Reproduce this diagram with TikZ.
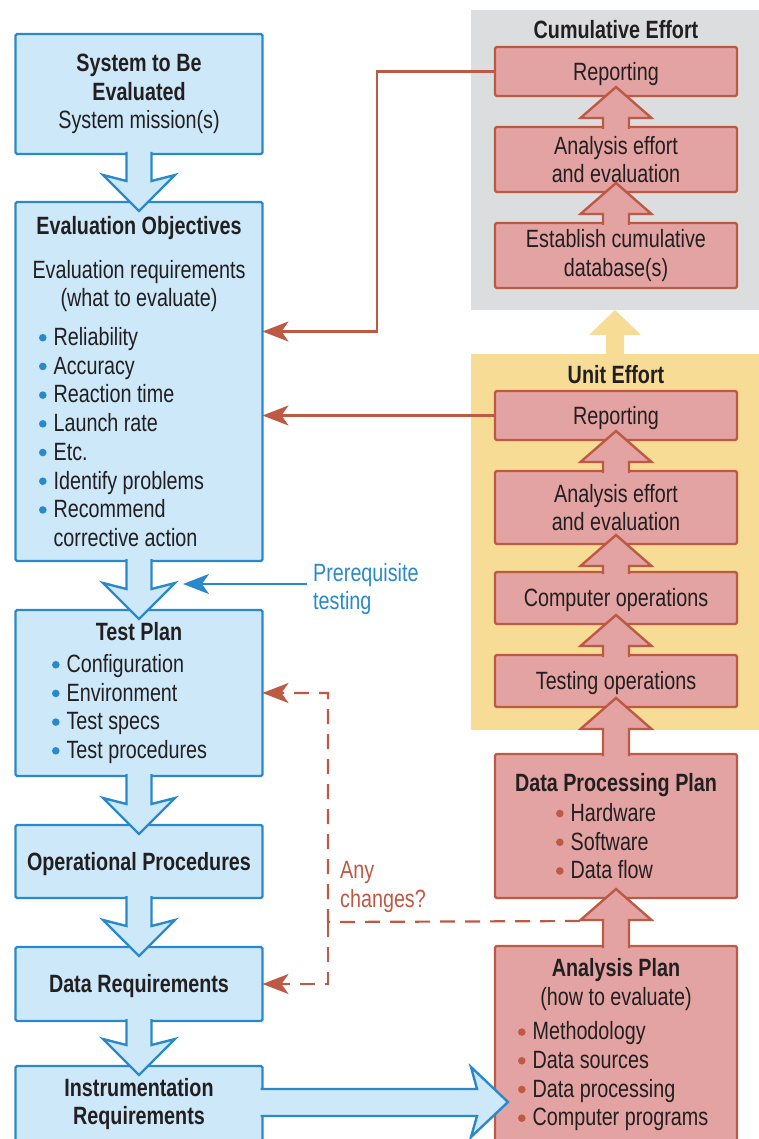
\documentclass[tikz,border=0pt]{standalone}
\usepackage{fontspec}
\setmainfont{Liberation Sans}[FakeStretch=0.79]
\usetikzlibrary{arrows.meta,calc}

\definecolor{boxblue}{HTML}{CCE8F9}
\definecolor{lineblue}{HTML}{2A89CA}
\definecolor{boxred}{HTML}{E2A3A2}
\definecolor{linered}{HTML}{BE5944}
\definecolor{cumgray}{HTML}{DCDDDF}
\definecolor{unityellow}{HTML}{F7DC95}
\definecolor{inkdark}{HTML}{231F20}

\tikzset{
  box/.style={draw, rectangle, rounded corners=1.5pt, line width=2.4pt, inner sep=0pt, outer sep=0pt, align=center},
  oneline/.style={execute at begin node={\rule{0pt}{23pt}}, execute at end node={\rule[-5.8pt]{0pt}{5.8pt}}},
  bluebox/.style={box, draw=lineblue, fill=boxblue, minimum width=247pt},
  redbox/.style={box, draw=linered, fill=boxred, minimum width=242pt},
  panel/.style={rectangle, minimum width=288pt, inner sep=0pt, outer sep=0pt},
  blueflow/.style={draw=lineblue, fill=boxblue, line width=2.4pt},
  redflow/.style={draw=linered, fill=boxred, line width=2.4pt},
  feedback/.style={draw=linered, line width=2.2pt, -{Stealth[length=26pt, width=20pt, inset=7pt]}},
  changeline/.style={feedback, dash pattern=on 15pt off 10pt},
  prereqline/.style={draw=lineblue, line width=2.2pt, -{Stealth[length=26pt, width=20pt, inset=7pt]}}
}

% bullet dot, and a bullet line of fixed width
\newcommand{\bul}[1]{\tikz[baseline=0pt]\fill[#1] (0pt,7.8pt) circle[radius=3.8pt];\hspace{7pt}}
\newcommand{\bitem}[3]{\makebox[#1][l]{\bul{#2}#3}}

% wide block arrows between boxes
\newcommand{\downflow}[2]{%
  \filldraw[blueflow] ($(#1.south)+(-12.5,-2)$) -- ($(#2.north)+(-12.5,-21)$)
    -- ($(#2.north)+(-36,-27)$) -- ($(#2.north)+(0,9)$) -- ($(#2.north)+(36,-27)$)
    -- ($(#2.north)+(12.5,-21)$) -- ($(#1.south)+(12.5,-2)$);}
\newcommand{\upflow}[2]{%
  \filldraw[redflow] ($(#1.north)+(-13,2)$) -- ($(#2.south)+(-13,22)$)
    -- ($(#2.south)+(-35.5,22)$) -- ($(#2.south)+(0,-9)$) -- ($(#2.south)+(35.5,22)$)
    -- ($(#2.south)+(13,22)$) -- ($(#1.north)+(13,2)$);}

\begin{document}
\begin{tikzpicture}[x=1pt, y=-1pt, font=\fontsize{25}{28.7}\selectfont, text=inkdark]
\useasboundingbox (0,0) rectangle (759,1139);

% Effort panels
\node[panel, fill=cumgray, minimum height=300pt] (cumbg) at (615,160) {};
\node[panel, fill=unityellow, minimum height=376pt] (unitbg) at (615,542) {};
\fill[unityellow] ($(unitbg.north)+(-9,1)$) -- ($(cumbg.south)+(-9,25)$) -- ($(cumbg.south)+(-26,25)$)
  -- (cumbg.south) -- ($(cumbg.south)+(26,25)$) -- ($(cumbg.south)+(9,25)$) -- ($(unitbg.north)+(9,1)$) -- cycle;
\node (cumtitle) at (616,30) {\textbf{Cumulative Effort}};
\node (unittitle) at (616,375) {\textbf{Unit Effort}};

% Left column
\node[bluebox, minimum height=120pt] (system) at (139,94) {\textbf{System to Be}\\\textbf{Evaluated}\\System mission(s)};
\node[bluebox, minimum height=359pt] (objectives) at (139,381.5) {\textbf{Evaluation Objectives}\\[15pt]
  Evaluation requirements\\
  (what to evaluate)\\[10pt]
  \bitem{200pt}{lineblue}{Reliability}\\
  \bitem{200pt}{lineblue}{Accuracy}\\
  \bitem{200pt}{lineblue}{Reaction time}\\
  \bitem{200pt}{lineblue}{Launch rate}\\
  \bitem{200pt}{lineblue}{Etc.}\\
  \bitem{200pt}{lineblue}{Identify problems}\\
  \bitem{200pt}{lineblue}{Recommend}\\
  \makebox[200pt][l]{\hspace{14.6pt}corrective action}};
\node[bluebox, minimum height=166pt] (testplan) at (139,693) {\textbf{Test Plan}\\[3.5pt]
  \bitem{174pt}{lineblue}{Configuration}\\
  \bitem{174pt}{lineblue}{Environment}\\
  \bitem{174pt}{lineblue}{Test specs}\\
  \bitem{174pt}{lineblue}{Test procedures}};
\node[bluebox, oneline, minimum height=73pt] (opproc) at (139,861.5) {\textbf{Operational Procedures}};
\node[bluebox, oneline, minimum height=74pt] (datareq) at (139,984) {\textbf{Data Requirements}};
\node[bluebox, minimum height=76pt] (instr) at (139,1104) {\textbf{Instrumentation}\\\textbf{Requirements}};

% Right column
\node[redbox, oneline, minimum height=49pt] (cumrep) at (616,71.5) {Reporting};
\node[redbox, minimum height=65pt] (cumana) at (616,159.5) {Analysis effort\\and evaluation};
\node[redbox, minimum height=65pt] (cumdb) at (616,255.5) {Establish cumulative\\database(s)};
\node[redbox, oneline, minimum height=49pt] (unitrep) at (616,415.5) {Reporting};
\node[redbox, minimum height=73pt] (unitana) at (616,507.5) {Analysis effort\\and evaluation};
\node[redbox, oneline, minimum height=52pt] (unitcomp) at (616,598) {Computer operations};
\node[redbox, oneline, minimum height=52pt] (unittest) at (616,681) {Testing operations};
\node[redbox, minimum height=144pt] (dpp) at (616,826) {\textbf{Data Processing Plan}\\[1.5pt]
  \bitem{120pt}{linered}{Hardware}\\
  \bitem{120pt}{linered}{Software}\\
  \bitem{120pt}{linered}{Data flow}};
\node[redbox, minimum height=198pt] (ap) at (616,1045) {\textbf{Analysis Plan}\\
  (how to evaluate)\\[5.5pt]
  \bitem{196pt}{linered}{Methodology}\\
  \bitem{196pt}{linered}{Data sources}\\
  \bitem{196pt}{linered}{Data processing}\\
  \bitem{196pt}{linered}{Computer programs}};

% Side labels
\node[anchor=west, align=left, inner sep=0pt, text=lineblue] (prereq) at (313,589) {Prerequisite\\testing};
\node[anchor=west, align=left, inner sep=0pt, text=linered] (anychg) at (340,887) {Any\\changes?};

% Block arrows
\downflow{system}{objectives}
\downflow{objectives}{testplan}
\downflow{testplan}{opproc}
\downflow{opproc}{datareq}
\downflow{datareq}{instr}
\upflow{cumana}{cumrep}
\upflow{cumdb}{cumana}
\upflow{unitana}{unitrep}
\upflow{unitcomp}{unitana}
\upflow{unittest}{unitcomp}
\upflow{dpp}{unittest}
\upflow{ap}{dpp}
\filldraw[blueflow] ($(instr.east)+(-2,-15)$) -- ($(ap.west |- instr.east)+(-18,-15)$)
  -- ($(ap.west |- instr.east)+(-24,-37)$) -- ($(ap.west |- instr.east)+(13,-2)$)
  -- ($(ap.west |- instr.east)+(-24,33)$) -- ($(ap.west |- instr.east)+(-18,12)$)
  -- ($(instr.east)+(-2,12)$);

% Feedback lines
\coordinate (pretip) at (183,584);
\coordinate (chgstart) at ($(dpp.south)+(-36,23)$);
\coordinate (chgsplit) at (328,922);
\draw[feedback] (cumrep.west) -- ++(-118,0) |- ($(objectives.east)+(0,-50)$);
\draw[feedback] (unitrep.west) -- (objectives.east |- unitrep.west);
\draw[prereqline] ($(prereq.west |- pretip)+(-6,0)$) -- (pretip);
\draw[changeline] (chgstart) -- (chgsplit) |- (testplan.east);
\draw[changeline] (chgsplit) |- (datareq.east);
\end{tikzpicture}
\end{document}
